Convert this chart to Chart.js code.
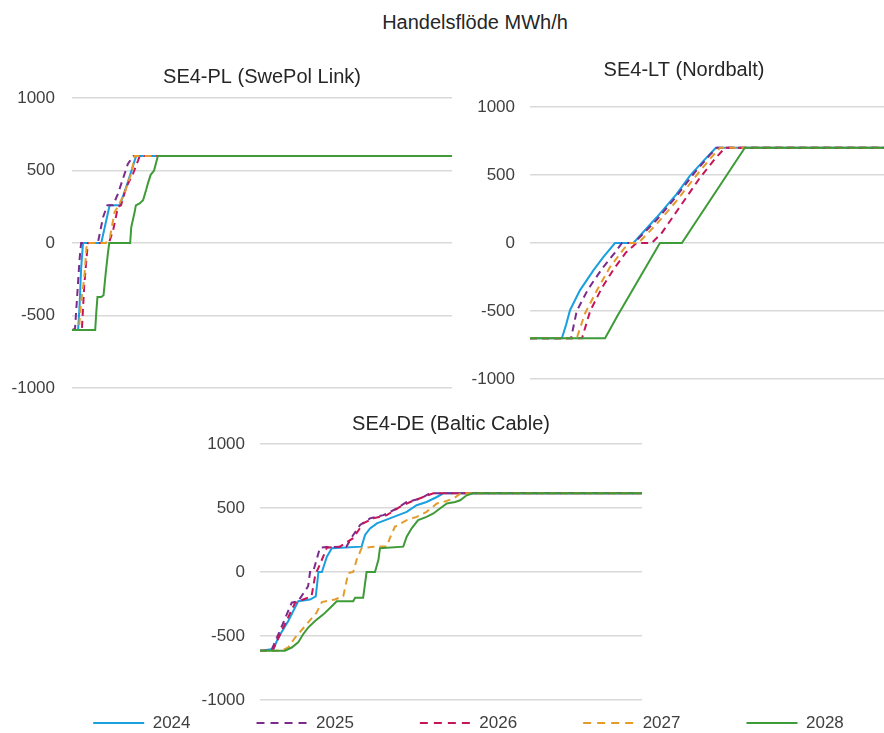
<!DOCTYPE html>
<html>
<head>
<meta charset="utf-8">
<script src="https://cdn.jsdelivr.net/npm/chart.js@4.4.1/dist/chart.umd.min.js"></script>
<style>
  html, body { margin: 0; padding: 0; background: #ffffff; overflow: hidden; }
  #wrap { position: relative; width: 884px; height: 733px; overflow: hidden; }
  canvas { position: absolute; }
  #heading {
    position: absolute; left: 0; top: 10px; width: 950px; text-align: center;
    font-family: "Liberation Sans", Arial, sans-serif; font-size: 20px; line-height: 24px; color: #262626;
  }
</style>
</head>
<body>
<div id="wrap">
  <div id="heading">Handelsflöde MWh/h</div>
  <canvas id="pl" width="460" height="416" style="left:0;top:0;width:460px;height:416px"></canvas>
  <canvas id="lt" width="448" height="406" style="left:460px;top:0;width:448px;height:406px"></canvas>
  <canvas id="de" width="937" height="333" style="left:0;top:400px;width:937px;height:333px"></canvas>
</div>
<script>
// Duration curves of hourly trade flow per interconnector.
// x = share of the year's hours (%), sorted; y = flow in MWh/h.
const years = ['2024', '2025', '2026', '2027', '2028'];
const yTicks = [-1000, -500, 0, 500, 1000];

// SE4-PL (SwePol Link)
const pl2024 = [[0,-600],[1.6,-600],[2.0,-430],[2.4,-175],[2.9,0],[7.7,0],[9.9,260],[12.6,260],[14.7,420],[16.5,570],[16.9,600],[100,600]];
const pl2025 = [[0,-600],[0.8,-590],[1.4,-350],[2.0,-110],[2.4,0],[6.8,0],[8.2,180],[9.3,260],[10.8,260],[12.1,340],[14.7,545],[16.1,600],[100,600]];
const pl2026 = [[0,-600],[2.6,-600],[3.2,-300],[3.9,-80],[4.2,0],[9.7,0],[10.8,85],[12.1,250],[12.9,260],[14.3,385],[16.1,480],[17.4,570],[17.8,600],[100,600]];
const pl2027 = [[0,-600],[1.8,-600],[2.4,-400],[3.2,-250],[3.9,0],[8.9,0],[10.0,40],[11.2,215],[12.1,250],[13.9,350],[15.6,480],[16.5,600],[100,600]];
const pl2028 = [[0,-600],[6.1,-600],[6.4,-475],[6.7,-372],[7.7,-372],[8.3,-360],[8.9,-200],[9.5,-60],[9.8,0],[15.3,0],[15.6,110],[16.5,215],[16.8,260],[17.8,273],[18.7,295],[19.5,365],[20.0,413],[20.7,470],[21.6,500],[22.2,560],[22.6,600],[100,600]];

// SE4-LT (Nordbalt)
const lt2024 = [[0,-700],[9.0,-700],[10.2,-600],[11.3,-494],[14.1,-348],[17.9,-201],[20.7,-104],[24.0,0],[29.2,0],[35.8,189],[41.4,360],[45.2,495],[49.0,604],[52.5,700],[100,700]];
const lt2025 = [[0,-700],[11.6,-700],[13.2,-500],[16.4,-340],[20.6,-180],[24.0,-70],[26.0,0],[29.4,0],[35.8,170],[41.4,345],[46.1,505],[50.9,650],[52.8,700],[100,700]];
const lt2026 = [[0,-700],[14.7,-700],[17.0,-500],[20.3,-330],[23.7,-190],[27.1,-70],[30.1,0],[34.4,0],[37.2,73],[41.9,250],[48.0,480],[52.3,620],[55.1,700],[100,700]];
const lt2027 = [[0,-700],[13.2,-700],[15.5,-520],[18.9,-348],[22.6,-177],[26.6,-40],[28.3,0],[30.6,0],[35.8,140],[41.4,310],[47.1,500],[50.9,620],[53.7,700],[100,700]];
const lt2028 = [[0,-700],[21.2,-700],[24.6,-540],[36.7,0],[42.9,0],[60.7,700],[100,700]];

// SE4-DE (Baltic Cable)
const de2024 = [[0,-615],[3.5,-602],[4.8,-512],[7.4,-383],[10.0,-228],[13.1,-215],[14.6,-190],[15.3,0],[16.2,0],[17.5,120],[18.8,186],[26.6,198],[27.5,289],[28.8,341],[30.6,380],[34.0,419],[38.4,470],[41.0,522],[43.6,547],[46.3,586],[48.0,615],[100,615]];
const de2025 = [[0,-615],[2.6,-615],[3.1,-602],[5.2,-460],[8.3,-240],[10.0,-228],[12.6,-111],[13.1,0],[13.9,0],[15.7,190],[17.5,195],[22.6,198],[24.4,289],[26.2,367],[28.8,419],[32.3,444],[35.8,496],[38.4,547],[41.9,573],[44.5,615],[100,615]];
const de2026 = [[0,-615],[3.1,-615],[3.5,-602],[6.1,-434],[9.2,-240],[11.3,-215],[13.5,-189],[14.4,-34],[14.8,0],[15.7,60],[17.5,190],[20.9,198],[24.4,264],[27.0,380],[29.7,419],[33.2,444],[36.6,509],[39.3,547],[42.8,586],[45.4,615],[100,615]];
const de2027 = [[0,-615],[5.7,-615],[7.4,-589],[9.2,-512],[11.8,-422],[14.8,-318],[16.2,-235],[19.6,-215],[21.8,-189],[23.1,-8],[24.4,0],[25.3,95],[26.6,186],[29.7,198],[33.2,200],[34.0,264],[35.3,353],[38.4,405],[41.0,431],[43.6,470],[46.3,535],[48.0,547],[50.6,573],[52.4,612],[53.0,615],[100,615]];
const de2028 = [[0,-615],[6.5,-615],[8.3,-590],[10.0,-550],[11.3,-486],[12.6,-434],[14.4,-383],[16.6,-331],[18.4,-279],[20.1,-228],[24.4,-228],[24.9,-202],[27.0,-202],[27.9,0],[30.1,0],[31.0,95],[31.4,186],[37.5,198],[38.4,276],[39.7,341],[41.4,405],[43.6,431],[45.4,457],[47.1,496],[48.9,535],[51.1,547],[52.4,560],[54.1,599],[55.8,615],[100,615]];

const FONT = '"Liberation Sans", Arial, sans-serif';
const colors = ['#1a9fe0', '#7a2b8b', '#c5155a', '#e49b2c', '#3e9b38'];
const dashes = [[], [7, 5], [7, 5], [7, 5], []];
const legendDashes = [[], [8, 6], [8, 6], [8, 6], []];

function buildDatasets(series) {
  return series.map((pts, i) => ({
    label: years[i],
    data: pts.map(([x, y]) => ({ x, y })),
    borderColor: colors[i],
    backgroundColor: colors[i],
    borderWidth: 2,
    borderDash: dashes[i],
    pointRadius: 0,
    tension: 0,
    fill: false,
    order: years.length - 1 - i   // later years drawn on top
  }));
}

// Moves the legend row so that it sits just below the plot.
const legendRow = {
  id: 'legendRow',
  beforeDraw(chart, args, opts) {
    const lg = chart.legend;
    if (lg && lg.options.display && opts.centerY != null) {
      lg.top = opts.centerY - lg.options.labels.padding - lg.options.labels.font.size / 2;
    }
  }
};

function makeChart(id, title, series, cfg) {
  return new Chart(document.getElementById(id), {
    type: 'line',
    data: { datasets: buildDatasets(series) },
    plugins: [legendRow],
    options: {
      responsive: false,
      animation: false,
      devicePixelRatio: 1,
      layout: { padding: cfg.padding },
      plugins: {
        title: {
          display: true, text: title, fullSize: cfg.titleFull, color: '#262626',
          font: { family: FONT, size: 20, weight: 'normal' },
          padding: cfg.titlePad
        },
        legend: cfg.legend || { display: false },
        legendRow: { centerY: cfg.legendY },
        tooltip: { enabled: false }
      },
      scales: {
        x: { type: 'linear', min: 0, max: 100, display: false },
        y: {
          min: -1000, max: 1000,
          afterBuildTicks: s => { s.ticks = yTicks.map(v => ({ value: v })); },
          ticks: { color: '#404040', font: { family: FONT, size: 17 }, padding: cfg.tickPad, callback: v => String(v) },
          grid: { color: '#d9d9d9', lineWidth: 1.5, drawTicks: false },
          border: { display: false },
          afterFit: s => { s.width = cfg.yWidth; }
        },
        y2: {
          position: 'right', display: true,
          ticks: { display: false },
          grid: { display: false, drawTicks: false },
          border: { display: false },
          afterFit: s => { s.width = cfg.rightWidth; }
        }
      }
    }
  });
}

makeChart('pl', 'SE4-PL (SwePol Link)', [pl2024, pl2025, pl2026, pl2027, pl2028], {
  padding: { left: 0, right: 0, top: 0, bottom: 28 },
  titleFull: false, titlePad: { top: 65, bottom: 9 },
  yWidth: 72, rightWidth: 8, tickPad: 17
});

makeChart('lt', 'SE4-LT (Nordbalt)', [lt2024, lt2025, lt2026, lt2027, lt2028], {
  padding: { left: 0, right: 0, top: 0, bottom: 27 },
  titleFull: true, titlePad: { top: 58, bottom: 25 },
  yWidth: 70, rightWidth: 24, tickPad: 15
});

makeChart('de', 'SE4-DE (Baltic Cable)', [de2024, de2025, de2026, de2027, de2028], {
  padding: { left: 0, right: 0, top: 0, bottom: 0 },
  titleFull: false, titlePad: { top: 12, bottom: 8 },
  yWidth: 260, rightWidth: 295, tickPad: 15,
  legendY: 323,
  legend: {
    display: true, position: 'bottom', maxHeight: 33,
    labels: {
      usePointStyle: true, pointStyle: 'line', pointStyleWidth: 51, boxWidth: 51,
      padding: 66, color: '#404040', font: { family: FONT, size: 17 },
      sort: (a, b) => a.datasetIndex - b.datasetIndex,
      generateLabels: chart => Chart.defaults.plugins.legend.labels.generateLabels(chart).map(item =>
        Object.assign(item, {
          lineDash: legendDashes[item.datasetIndex],
          lineWidth: 2,
          strokeStyle: colors[item.datasetIndex],
          pointStyle: 'line'
        }))
    }
  }
});
</script>
</body>
</html>
